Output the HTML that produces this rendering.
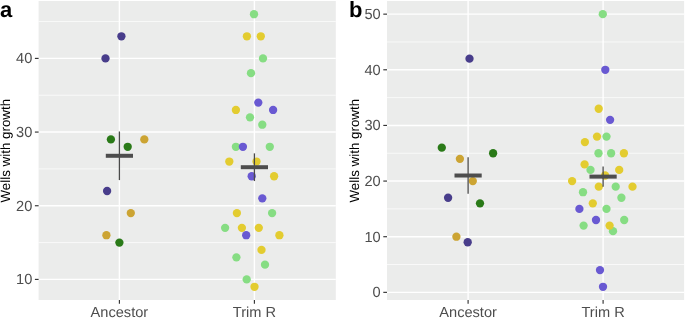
<!DOCTYPE html>
<html><head><meta charset="utf-8"><title>Wells with growth</title>
<style>html,body{margin:0;padding:0;background:#fff}body{width:685px;height:318px;overflow:hidden}svg{font-family:"Liberation Sans",sans-serif}svg text{text-rendering:geometricPrecision}</style>
</head><body>
<svg width="685" height="318" viewBox="0 0 685 318" style="display:block;will-change:transform">
<rect width="685" height="318" fill="#fff"/>
<rect x="38.6" y="1.0" width="297.20" height="299.00" fill="#EBECEB"/>
<line x1="38.6" x2="335.8" y1="242.58" y2="242.58" stroke="#fff" stroke-width="0.7"/>
<line x1="38.6" x2="335.8" y1="168.91" y2="168.91" stroke="#fff" stroke-width="0.7"/>
<line x1="38.6" x2="335.8" y1="95.23" y2="95.23" stroke="#fff" stroke-width="0.7"/>
<line x1="38.6" x2="335.8" y1="21.56" y2="21.56" stroke="#fff" stroke-width="0.7"/>
<line x1="38.6" x2="335.8" y1="279.41" y2="279.41" stroke="#fff" stroke-width="1.4"/>
<line x1="38.6" x2="335.8" y1="205.74" y2="205.74" stroke="#fff" stroke-width="1.4"/>
<line x1="38.6" x2="335.8" y1="132.07" y2="132.07" stroke="#fff" stroke-width="1.4"/>
<line x1="38.6" x2="335.8" y1="58.40" y2="58.40" stroke="#fff" stroke-width="1.4"/>
<line x1="119.40" x2="119.40" y1="1.0" y2="300.0" stroke="#fff" stroke-width="1.4"/>
<line x1="254.40" x2="254.40" y1="1.0" y2="300.0" stroke="#fff" stroke-width="1.4"/>
<line x1="34.90" x2="38.6" y1="279.41" y2="279.41" stroke="#333" stroke-width="1.15"/>
<text x="32.30" y="284.41" font-size="14.6" fill="#4D4D4D" text-anchor="end">10</text>
<line x1="34.90" x2="38.6" y1="205.74" y2="205.74" stroke="#333" stroke-width="1.15"/>
<text x="32.30" y="210.74" font-size="14.6" fill="#4D4D4D" text-anchor="end">20</text>
<line x1="34.90" x2="38.6" y1="132.07" y2="132.07" stroke="#333" stroke-width="1.15"/>
<text x="32.30" y="137.07" font-size="14.6" fill="#4D4D4D" text-anchor="end">30</text>
<line x1="34.90" x2="38.6" y1="58.40" y2="58.40" stroke="#333" stroke-width="1.15"/>
<text x="32.30" y="63.40" font-size="14.6" fill="#4D4D4D" text-anchor="end">40</text>
<line x1="119.40" x2="119.40" y1="300.0" y2="303.70" stroke="#333" stroke-width="1.15"/>
<text x="119.40" y="317.1" font-size="14.6" fill="#4D4D4D" text-anchor="middle">Ancestor</text>
<line x1="254.40" x2="254.40" y1="300.0" y2="303.70" stroke="#333" stroke-width="1.15"/>
<text x="254.40" y="317.1" font-size="14.6" fill="#4D4D4D" text-anchor="middle">Trim R</text>
<rect x="387.0" y="1.0" width="297.10" height="299.00" fill="#EBECEB"/>
<line x1="387.0" x2="684.1" y1="264.53" y2="264.53" stroke="#fff" stroke-width="0.7"/>
<line x1="387.0" x2="684.1" y1="208.89" y2="208.89" stroke="#fff" stroke-width="0.7"/>
<line x1="387.0" x2="684.1" y1="153.25" y2="153.25" stroke="#fff" stroke-width="0.7"/>
<line x1="387.0" x2="684.1" y1="97.61" y2="97.61" stroke="#fff" stroke-width="0.7"/>
<line x1="387.0" x2="684.1" y1="41.97" y2="41.97" stroke="#fff" stroke-width="0.7"/>
<line x1="387.0" x2="684.1" y1="292.35" y2="292.35" stroke="#fff" stroke-width="1.4"/>
<line x1="387.0" x2="684.1" y1="236.71" y2="236.71" stroke="#fff" stroke-width="1.4"/>
<line x1="387.0" x2="684.1" y1="181.07" y2="181.07" stroke="#fff" stroke-width="1.4"/>
<line x1="387.0" x2="684.1" y1="125.43" y2="125.43" stroke="#fff" stroke-width="1.4"/>
<line x1="387.0" x2="684.1" y1="69.79" y2="69.79" stroke="#fff" stroke-width="1.4"/>
<line x1="387.0" x2="684.1" y1="14.15" y2="14.15" stroke="#fff" stroke-width="1.4"/>
<line x1="468.10" x2="468.10" y1="1.0" y2="300.0" stroke="#fff" stroke-width="1.4"/>
<line x1="603.10" x2="603.10" y1="1.0" y2="300.0" stroke="#fff" stroke-width="1.4"/>
<line x1="383.30" x2="387.0" y1="292.35" y2="292.35" stroke="#333" stroke-width="1.15"/>
<text x="380.70" y="297.35" font-size="14.6" fill="#4D4D4D" text-anchor="end">0</text>
<line x1="383.30" x2="387.0" y1="236.71" y2="236.71" stroke="#333" stroke-width="1.15"/>
<text x="380.70" y="241.71" font-size="14.6" fill="#4D4D4D" text-anchor="end">10</text>
<line x1="383.30" x2="387.0" y1="181.07" y2="181.07" stroke="#333" stroke-width="1.15"/>
<text x="380.70" y="186.07" font-size="14.6" fill="#4D4D4D" text-anchor="end">20</text>
<line x1="383.30" x2="387.0" y1="125.43" y2="125.43" stroke="#333" stroke-width="1.15"/>
<text x="380.70" y="130.43" font-size="14.6" fill="#4D4D4D" text-anchor="end">30</text>
<line x1="383.30" x2="387.0" y1="69.79" y2="69.79" stroke="#333" stroke-width="1.15"/>
<text x="380.70" y="74.79" font-size="14.6" fill="#4D4D4D" text-anchor="end">40</text>
<line x1="383.30" x2="387.0" y1="14.15" y2="14.15" stroke="#333" stroke-width="1.15"/>
<text x="380.70" y="19.15" font-size="14.6" fill="#4D4D4D" text-anchor="end">50</text>
<line x1="468.10" x2="468.10" y1="300.0" y2="303.70" stroke="#333" stroke-width="1.15"/>
<text x="468.10" y="317.1" font-size="14.6" fill="#4D4D4D" text-anchor="middle">Ancestor</text>
<line x1="603.10" x2="603.10" y1="300.0" y2="303.70" stroke="#333" stroke-width="1.15"/>
<text x="603.10" y="317.1" font-size="14.6" fill="#4D4D4D" text-anchor="middle">Trim R</text>
<circle cx="121.4" cy="36.30" r="4.15" fill="#483D8B"/>
<circle cx="105.5" cy="58.40" r="4.15" fill="#483D8B"/>
<circle cx="110.9" cy="139.44" r="4.15" fill="#2A7A18"/>
<circle cx="127.7" cy="146.80" r="4.15" fill="#2A7A18"/>
<circle cx="144.3" cy="139.44" r="4.15" fill="#CCA433"/>
<circle cx="107.1" cy="191.01" r="4.15" fill="#483D8B"/>
<circle cx="130.8" cy="213.11" r="4.15" fill="#CCA433"/>
<circle cx="106.4" cy="235.21" r="4.15" fill="#CCA433"/>
<circle cx="119.4" cy="242.58" r="4.15" fill="#2A7A18"/>
<circle cx="254.0" cy="14.20" r="4.15" fill="#86DD83"/>
<circle cx="246.9" cy="36.30" r="4.15" fill="#E3CC30"/>
<circle cx="260.8" cy="36.30" r="4.15" fill="#E3CC30"/>
<circle cx="263.0" cy="58.40" r="4.15" fill="#86DD83"/>
<circle cx="251.0" cy="73.13" r="4.15" fill="#86DD83"/>
<circle cx="258.3" cy="102.60" r="4.15" fill="#6959D2"/>
<circle cx="235.9" cy="109.97" r="4.15" fill="#E3CC30"/>
<circle cx="273.1" cy="109.97" r="4.15" fill="#6959D2"/>
<circle cx="250.0" cy="117.34" r="4.15" fill="#86DD83"/>
<circle cx="262.3" cy="124.70" r="4.15" fill="#86DD83"/>
<circle cx="235.9" cy="146.80" r="4.15" fill="#86DD83"/>
<circle cx="242.9" cy="146.80" r="4.15" fill="#6959D2"/>
<circle cx="269.8" cy="146.80" r="4.15" fill="#86DD83"/>
<circle cx="229.3" cy="161.54" r="4.15" fill="#E3CC30"/>
<circle cx="256.5" cy="161.54" r="4.15" fill="#E3CC30"/>
<circle cx="251.7" cy="176.27" r="4.15" fill="#6959D2"/>
<circle cx="274.1" cy="176.27" r="4.15" fill="#E3CC30"/>
<circle cx="262.3" cy="198.37" r="4.15" fill="#6959D2"/>
<circle cx="236.9" cy="213.11" r="4.15" fill="#E3CC30"/>
<circle cx="272.1" cy="213.11" r="4.15" fill="#86DD83"/>
<circle cx="225.1" cy="227.84" r="4.15" fill="#86DD83"/>
<circle cx="241.9" cy="227.84" r="4.15" fill="#E3CC30"/>
<circle cx="258.8" cy="227.84" r="4.15" fill="#E3CC30"/>
<circle cx="246.2" cy="235.21" r="4.15" fill="#6959D2"/>
<circle cx="279.4" cy="235.21" r="4.15" fill="#E3CC30"/>
<circle cx="261.5" cy="249.94" r="4.15" fill="#E3CC30"/>
<circle cx="236.4" cy="257.31" r="4.15" fill="#86DD83"/>
<circle cx="265.0" cy="264.68" r="4.15" fill="#86DD83"/>
<circle cx="246.7" cy="279.41" r="4.15" fill="#86DD83"/>
<circle cx="254.5" cy="286.78" r="4.15" fill="#E3CC30"/>
<circle cx="469.5" cy="58.66" r="4.15" fill="#483D8B"/>
<circle cx="441.8" cy="147.69" r="4.15" fill="#2A7A18"/>
<circle cx="493.1" cy="153.25" r="4.15" fill="#2A7A18"/>
<circle cx="459.9" cy="158.81" r="4.15" fill="#CCA433"/>
<circle cx="472.8" cy="181.07" r="4.15" fill="#CCA433"/>
<circle cx="448.1" cy="197.76" r="4.15" fill="#483D8B"/>
<circle cx="480.0" cy="203.33" r="4.15" fill="#2A7A18"/>
<circle cx="456.4" cy="236.71" r="4.15" fill="#CCA433"/>
<circle cx="467.7" cy="242.27" r="4.15" fill="#483D8B"/>
<circle cx="602.8" cy="14.15" r="4.15" fill="#86DD83"/>
<circle cx="605.3" cy="69.79" r="4.15" fill="#6959D2"/>
<circle cx="598.7" cy="108.74" r="4.15" fill="#E3CC30"/>
<circle cx="610.1" cy="119.87" r="4.15" fill="#6959D2"/>
<circle cx="597.0" cy="136.56" r="4.15" fill="#E3CC30"/>
<circle cx="606.5" cy="136.56" r="4.15" fill="#86DD83"/>
<circle cx="584.9" cy="142.12" r="4.15" fill="#E3CC30"/>
<circle cx="598.5" cy="153.25" r="4.15" fill="#86DD83"/>
<circle cx="611.1" cy="153.25" r="4.15" fill="#86DD83"/>
<circle cx="623.9" cy="153.25" r="4.15" fill="#E3CC30"/>
<circle cx="584.6" cy="164.38" r="4.15" fill="#E3CC30"/>
<circle cx="590.5" cy="169.94" r="4.15" fill="#86DD83"/>
<circle cx="619.2" cy="169.94" r="4.15" fill="#E3CC30"/>
<circle cx="605.1" cy="175.51" r="4.15" fill="#E3CC30"/>
<circle cx="572.1" cy="181.07" r="4.15" fill="#E3CC30"/>
<circle cx="598.8" cy="186.63" r="4.15" fill="#E3CC30"/>
<circle cx="615.7" cy="186.63" r="4.15" fill="#86DD83"/>
<circle cx="632.5" cy="186.63" r="4.15" fill="#E3CC30"/>
<circle cx="583.0" cy="192.20" r="4.15" fill="#86DD83"/>
<circle cx="621.4" cy="197.76" r="4.15" fill="#86DD83"/>
<circle cx="592.8" cy="203.33" r="4.15" fill="#E3CC30"/>
<circle cx="579.4" cy="208.89" r="4.15" fill="#6959D2"/>
<circle cx="606.5" cy="208.89" r="4.15" fill="#86DD83"/>
<circle cx="596.0" cy="220.02" r="4.15" fill="#6959D2"/>
<circle cx="624.2" cy="220.02" r="4.15" fill="#86DD83"/>
<circle cx="613.0" cy="231.15" r="4.15" fill="#86DD83"/>
<circle cx="583.6" cy="225.58" r="4.15" fill="#86DD83"/>
<circle cx="609.6" cy="225.58" r="4.15" fill="#E3CC30"/>
<circle cx="600.0" cy="270.09" r="4.15" fill="#6959D2"/>
<circle cx="603.0" cy="286.79" r="4.15" fill="#6959D2"/>
<line x1="119.40" x2="119.40" y1="131.48" y2="180.10" stroke="#4A4A4A" stroke-width="1.3"/>
<rect x="105.80" y="153.79" width="27.2" height="4.0" fill="#4D4D4D"/>
<line x1="254.40" x2="254.40" y1="153.36" y2="181.06" stroke="#4A4A4A" stroke-width="1.3"/>
<rect x="240.80" y="165.21" width="27.2" height="4.0" fill="#4D4D4D"/>
<line x1="468.10" x2="468.10" y1="157.31" y2="193.70" stroke="#4A4A4A" stroke-width="1.3"/>
<rect x="454.50" y="173.51" width="27.2" height="4.0" fill="#4D4D4D"/>
<line x1="603.10" x2="603.10" y1="166.60" y2="186.63" stroke="#4A4A4A" stroke-width="1.3"/>
<rect x="589.50" y="174.62" width="27.2" height="4.0" fill="#4D4D4D"/>
<text transform="translate(10.3,150.7) rotate(-90)" font-size="13.35" fill="#000" text-anchor="middle">Wells with growth</text>
<text transform="translate(358.6,150.7) rotate(-90)" font-size="13.35" fill="#000" text-anchor="middle">Wells with growth</text>
<text x="0" y="17.1" font-size="22" font-weight="bold" fill="#000">a</text>
<text x="349" y="17.1" font-size="22" font-weight="bold" fill="#000">b</text>
</svg>
</body></html>
